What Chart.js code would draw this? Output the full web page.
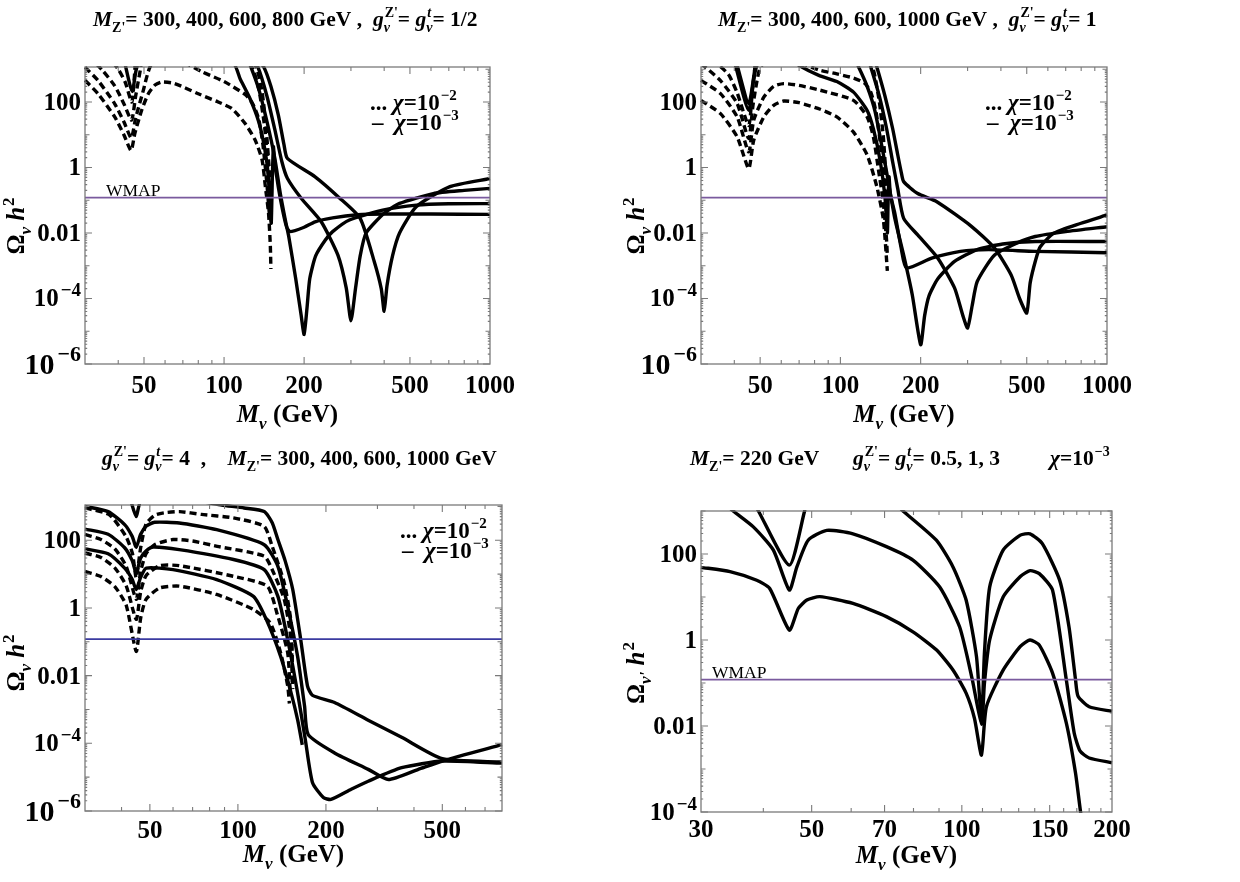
<!DOCTYPE html>
<html>
<head>
<meta charset="utf-8">
<script src="https://cdn.jsdelivr.net/npm/chart.js@4.4.1/dist/chart.umd.min.js"></script>
<style>
  body { margin: 0; background: #fff; }
  #wrap { position: relative; width: 1240px; height: 882px; }
  canvas { position: absolute; }
</style>
</head>
<body>
<div id="wrap">
  <canvas id="c1" width="620" height="441" style="left:0;top:0"></canvas>
  <canvas id="c2" width="620" height="441" style="left:620px;top:0"></canvas>
  <canvas id="c3" width="620" height="441" style="left:0;top:441px"></canvas>
  <canvas id="c4" width="620" height="441" style="left:620px;top:441px"></canvas>
</div>
<script>
// WMAP relic density band (drawn as one line)
const wmap = 0.12;

// ---- panel 1 : g = 1/2, M_Z' = 300, 400, 600, 800 GeV ----
const p1XTicks = [50, 100, 200, 500, 1000];
const p1YTicks = [1e-6, 1e-4, 0.01, 1, 100];
// chi = 1e-2 (dashed)
const p1Dash1 = [[30,460],[33.6,178],[38.8,35],[42,10],[44.7,3.3],[46.2,11],[49,56],[51.9,178],[55,330],[58.3,407],[65,370],[80,178],[95,100],[107,63],[120,22],[131,6.8],[139,1.7],[143,0.26],[147,0.04],[149.3,0.004],[150,0.0008]];
const p1Dash2 = [[30,1150],[33.6,450],[38.8,88],[42,25],[44.8,8],[46.5,32],[49.5,200],[53,1300],[60,2500],[72,1500],[83,820],[100,420],[120,170],[128,90],[135,30],[140,5],[145,0.3],[148,0.04],[150,0.028]];
const p1Dash3 = [[31,2500],[35,900],[38.8,311],[42,89],[44.9,28],[46.5,150],[48.5,1000],[50,3000],[100,3000],[126,1300],[135,250],[142,18],[146,1.2],[149.5,0.05]];
const p1Dash4 = [[36,3000],[40,1000],[42.5,400],[45,100],[46.2,900],[47,2500],[110,3000],[131,1300],[139,200],[144,15],[148,0.8],[150,0.15]];
// chi = 1e-3 (solid)
const p1Solid1 = [[42.3,1600],[45.2,210],[48.2,1600],[108,1500],[115,500],[125,130],[135,25],[142,4],[147,0.5],[149.5,0.03],[150.5,0.02],[152,0.6],[153.3,4.3],[155,1.5],[160,0.25],[166,0.05],[172,0.015],[177,0.011],[200,0.015],[220,0.022],[256,0.029],[318,0.036],[400,0.038],[600,0.038],[1000,0.037]];
const p1Solid2 = [[120,3000],[126,1200],[135,250],[145,25],[155,2],[163,0.15],[170,0.025],[175,0.008],[186,4e-4],[195,3e-5],[200,8e-6],[205,5e-5],[210,4e-4],[221,2e-3],[240,6e-3],[256,0.011],[296,0.025],[395,0.05],[529,0.071],[700,0.078],[1000,0.079]];
const p1Solid3 = [[125,2500],[134,1170],[145,150],[155,15],[165,1.5],[173,0.47],[195,0.115],[232,0.022],[268,2.1e-3],[288,2.1e-4],[300,2.1e-5],[312,2e-4],[325,2e-3],[342,0.01],[400,0.04],[457,0.08],[612,0.16],[800,0.2],[1000,0.23]];
const p1Solid4 = [[130,2500],[141,1170],[150,300],[160,40],[168,5],[173,1.9],[220,0.52],[271,0.12],[325,0.028],[367,1.35e-3],[390,2e-4],[400,4.1e-5],[410,2.5e-4],[430,2e-3],[457,0.01],[528,0.063],[707,0.26],[1000,0.46]];

// ---- panel 2 : g = 1, M_Z' = 300, 400, 600, 1000 GeV ----
const p2XTicks = [50, 100, 200, 500, 1000];
const p2YTicks = [1e-6, 1e-4, 0.01, 1, 100];
const p2Dash1 = [[30,112],[35.5,44],[41,8.6],[45.3,0.93],[47.3,6.8],[51.6,35],[56.2,79],[61.3,107],[70,95],[84,60],[97,35],[112,12],[126,2.4],[137,0.26],[145,0.025],[150,7e-4]];
const p2Dash2 = [[30,457],[35.5,180],[41,35],[45.3,3],[47.3,28],[51.6,140],[56.2,300],[61.3,363],[70,320],[84,229],[112,112],[126,35],[133,8.5],[139,0.83],[145,0.08],[149,0.006],[150,0.002]];
const p2Dash3 = [[30,1500],[35.5,450],[41,90],[45.3,7.6],[47,80],[49,600],[50.5,1300],[61,2500],[75,1300],[83,950],[97,720],[112,540],[123,380],[130,200],[136,50],[141,6],[146,0.4],[150,0.02]];
const p2Dash4 = [[33,2000],[38,700],[41,190],[45.3,19],[46.7,200],[48,1500],[49,3000],[120,3000],[132,1170],[140,100],[145,8],[148,0.6],[150,0.05]];
const p2Solid1 = [[40.4,1300],[45.3,56],[48.7,1300],[60,3000],[70,1300],[83,650],[97,420],[112,200],[126,55],[133,15],[141,1.6],[147,0.12],[150,0.01],[151,0.1],[152.2,0.52],[154,0.15],[160,0.04],[169,3.5e-3],[177,8.5e-4],[220,1.7e-3],[282,2.75e-3],[360,3.1e-3],[538,2.75e-3],[1000,2.5e-3]];
const p2Solid2 = [[41,1300],[45.3,90],[48,1300],[49,3000],[110,3000],[117,1170],[126,300],[135,50],[149,0.74],[160,0.028],[172.7,2.1e-3],[186,1.3e-4],[200,3.9e-6],[207,3e-5],[215,1.2e-4],[232,4e-4],[268,1.35e-3],[326,3.1e-3],[406,4.6e-3],[538,5.5e-3],[1000,5.5e-3]];
const p2Solid3 = [[125,3000],[130,1170],[140,150],[149,15.5],[157,1.5],[164,0.23],[172.7,0.028],[195,8.7e-3],[232,1.7e-3],[268,2.1e-4],[288,3e-5],[300,1.26e-5],[312,6e-5],[326,3.3e-4],[378,2.1e-3],[459,4.9e-3],[538,7.8e-3],[700,0.011],[1000,0.0155]];
const p2Solid4 = [[132,3000],[137,1170],[147,150],[157,15.5],[164,2.5],[169,0.74],[172.7,0.37],[195,0.16],[230,0.09],[310,0.016],[378,3.5e-3],[437,5.2e-4],[470,1e-4],[500,3.6e-5],[515,3e-4],[540,1.5e-3],[562,3.8e-3],[631,9.8e-3],[794,0.0195],[1000,0.0355]];

// ---- panel 3 : g = 4, M_Z' = 300, 400, 600, 1000 GeV ----
const p3XTicks = [50, 100, 200, 500];
const p3YTicks = [1e-6, 1e-4, 0.01, 1, 100];
const p3DashA = [[30,900],[36.3,570],[41.4,130],[43.6,40],[44.9,7.8],[46.5,60],[48.5,300],[52,550],[56,650],[63.2,700],[75,580],[96.6,457],[123,257],[131,66],[144,5.5],[152,0.36],[154,0.004]];
const p3DashB = [[30,148],[34,105],[38,55],[41.5,17],[44.9,1.8],[46.5,12],[48.5,40],[52,75],[60,105],[70,95],[85,66],[123,34],[131,13.5],[144,1.8],[152,0.115],[153.5,0.005]];
const p3DashC = [[30,42],[34,31],[38,15],[41.5,4.5],[44.9,0.46],[46.5,3],[48.5,9],[54,17.8],[63,17.8],[96.6,8.6],[126,4.4],[136,0.7],[148,0.047],[151,0.003]];
const p3DashD = [[30,12],[34,8.5],[38,4.2],[41.5,1.2],[44.9,0.052],[46.5,0.5],[48.5,1.8],[54,3.9],[63,4.4],[84.6,2.5],[113,0.9],[129,0.36],[140,0.047],[148,5e-3],[150,1.5e-3]];
const p3SolidA = [[43,1500],[44.9,500],[46.8,1500],[70,1500],[88,1100],[105,900],[123,710],[131,330],[137,105],[145,25],[154,3.5],[164,0.115],[173,4.9e-3],[180,2.6e-3],[214,1.6e-3],[279,4.8e-4],[363,1.5e-4],[500,3.5e-5],[800,2.8e-5]];
const p3SolidB = [[30,1000],[36,700],[41,290],[43.5,130],[44.9,62],[46.5,150],[48.5,260],[51.9,340],[63,324],[84.6,205],[123,74],[137,17],[148,1.1],[160,0.037],[169,1.26e-3],[174,1.8e-4],[214,5.2e-5],[279,1.7e-5],[327,8.5e-6],[414,1.7e-5],[500,3e-5],[800,9.1e-5]];
const p3SolidC = [[30,214],[36,150],[41,60],[43.5,25],[44.9,11],[46.5,30],[48.5,48],[51.2,63],[63,53],[96.6,27],[123,13.5],[137,2.2],[148,0.115],[160,3.1e-3],[170,1.3e-4],[180,6.8e-6],[196,2.5e-6],[208,2.2e-6],[244,4.4e-6],[279,7.6e-6],[363,1.9e-5],[500,3e-5],[800,2.6e-5]];
const p3SolidD = [[30,56],[36,40],[41,15],[43.5,7],[44.9,3.5],[46.5,8],[48.6,15],[60,13.5],[84.6,6.9],[113,2.2],[125,0.46],[140,0.037],[152,3.1e-3],[160,5e-4],[166,9e-5]];

// ---- panel 4 : M_Z' = 220 GeV, g = 0.5, 1, 3, chi = 1e-3 ----
const p4XTicks = [30, 50, 70, 100, 150, 200];
const p4XMinor = [40, 60, 80, 90, 110, 120, 130, 140, 160, 170, 180, 190];
const p4YTicks = [1e-4, 0.01, 1, 100];
const p4G1 = [[38.3,1500],[39.1,1000],[45.1,55],[48.4,1000],[48.9,1500],[73.2,1500],[76.2,1000],[88.9,209],[96,50],[102,8.5],[107,0.41],[109.5,0.013],[111,0.5],[113.7,17],[121,123],[131,275],[137,295],[145,174],[157,25],[164,2],[169,0.12],[171,0.049],[180,0.028],[200,0.022]];
const p4G2 = [[33.5,1500],[34.8,1000],[38.2,427],[41.9,123],[45.1,14.5],[46.7,50],[49.2,209],[53.6,355],[60.5,295],[70.6,148],[79.8,72],[90.3,17],[99,2.0],[105,0.117],[109.5,0.011],[111,0.1],[113.7,1.0],[121,10],[131,30],[137,41],[143,35],[152,14.5],[162,0.117],[168,6.8e-3],[172.7,2.6e-3],[180,1.8e-3],[200,1.4e-3]];
const p4G3 = [[30,49],[34.3,39],[38.8,24.5],[41.2,15.8],[45.1,1.7],[47,5.4],[48.9,8.5],[51.9,10.2],[60.5,7.1],[70.6,3.5],[79.8,1.55],[88.9,0.59],[96,0.2],[102,0.058],[106,0.015],[109.5,2.1e-3],[112,0.028],[121,0.2],[131,0.71],[137,1.0],[143,0.76],[152,0.17],[162,0.0117],[169,8.1e-4],[173,1e-4],[176,3e-5]];

const serif = '"Liberation Serif", "Times New Roman", serif';

function setFont(ctx, size, italic, normal) {
  ctx.font = (italic ? "italic " : "") + (normal ? "" : "bold ") + size + "px " + serif;
}

// text with sub/superscripts: parts = [{t, i, sub, subI, sup, supI, supS, gap}]
function richRun(ctx, parts, size, x, y, draw, normal) {
  let cx = x;
  parts.forEach((p) => {
    const small = Math.round(size * (p.supS || 0.66));
    if (p.t) {
      setFont(ctx, size, p.i, normal);
      if (draw) ctx.fillText(p.t, cx, y);
      cx += ctx.measureText(p.t).width;
    }
    let w = 0;
    if (p.sub) {
      setFont(ctx, small, p.subI, normal);
      if (draw) ctx.fillText(p.sub, cx, y + size * 0.28);
      w = ctx.measureText(p.sub).width;
    }
    if (p.sup) {
      const g = p.gap || 1;
      setFont(ctx, small, p.supI, normal);
      if (draw) ctx.fillText(p.sup, cx + g, y - size * 0.42);
      w = Math.max(w, ctx.measureText(p.sup).width + g);
    }
    cx += w;
  });
  return cx - x;
}

function drawRich(ctx, parts, x, y, size, align, normal) {
  const w = richRun(ctx, parts, size, 0, 0, false, normal);
  const x0 = align === "right" ? x - w : align === "center" ? x - w / 2 : x;
  richRun(ctx, parts, size, x0, y, true, normal);
}

const gZ = { t: "g", i: 1, sub: "ν", subI: 1, sup: "Z'" };
const gT = { t: "g", i: 1, sub: "ν", subI: 1, sup: "t", supI: 1 };
const mZ = { t: "M", i: 1, sub: "Z'" };
const chi = { t: "χ", i: 1 };

// y tick label: plain number, or 10 with exponent (the 10^-6 one is set larger)
function yLabel(v) {
  if (v >= 0.01) return { size: 25, parts: [{ t: String(v) }] };
  const e = Math.round(-Math.log10(v));
  if (e >= 6) return { size: 30, parts: [{ t: "10", sup: "−" + e, supS: 0.74, gap: 3 }] };
  return { size: 25, parts: [{ t: "10", sup: "−" + e, supS: 0.74, gap: 2 }] };
}

function isTick(v, list) {
  return list.some((t) => Math.abs(Math.log10(v) - Math.log10(t)) < 1e-6);
}

// frame, inward ticks, tick labels and all texts of one panel
function decor(cfg) {
  return {
    id: "decor",
    afterDraw(chart) {
      const ctx = chart.ctx;
      const a = chart.chartArea;
      const xs = chart.scales.x;
      const ys = chart.scales.y;
      ctx.save();
      ctx.strokeStyle = "#7a7a7a";
      ctx.lineWidth = 1.3;
      ctx.strokeRect(a.left, a.top, a.right - a.left, a.bottom - a.top);

      ctx.beginPath();
      ctx.lineWidth = 1.1;
      let xMinor = cfg.xMinor;
      if (!xMinor) {
        xMinor = [];
        for (let d = 1; d <= 3; d++)
          for (let m = 1; m <= 9; m++) xMinor.push(m * Math.pow(10, d));
      }
      const xAll = cfg.xTicks.concat(xMinor);
      xAll.forEach((v) => {
        if (v <= cfg.xMin || v >= cfg.xMax) return;
        const px = xs.getPixelForValue(v);
        const len = isTick(v, cfg.xTicks) ? 7 : 4;
        ctx.moveTo(px, a.bottom);
        ctx.lineTo(px, a.bottom - len);
        ctx.moveTo(px, a.top);
        ctx.lineTo(px, a.top + len);
      });
      for (let d = -6; d <= 3; d++) {
        for (let m = 1; m <= 9; m++) {
          const v = m * Math.pow(10, d);
          if (v < cfg.yMin * 0.999 || v > cfg.yMax) continue;
          const py = ys.getPixelForValue(v);
          let len = m === 1 ? 4.5 : 2.2;
          if (m === 1 && isTick(v, cfg.yTicks)) len = 7;
          ctx.moveTo(a.left, py);
          ctx.lineTo(a.left + len, py);
          ctx.moveTo(a.right, py);
          ctx.lineTo(a.right - len, py);
        }
      }
      ctx.stroke();

      ctx.fillStyle = "#000";
      ctx.textBaseline = "alphabetic";
      cfg.xTicks.forEach((v) => {
        drawRich(ctx, [{ t: String(v) }], xs.getPixelForValue(v), a.bottom + cfg.xLabDy, 25, "center");
      });
      cfg.yTicks.forEach((v) => {
        const lab = yLabel(v);
        drawRich(ctx, lab.parts, a.left - 4, ys.getPixelForValue(v) + lab.size * 0.32, lab.size, "right");
      });

      // axis titles
      const cxm = (a.left + a.right) / 2;
      drawRich(ctx, [{ t: "M", i: 1, sub: "ν", subI: 1 }, { t: " (GeV)" }], cxm, a.bottom + cfg.xTitleDy, 25, "center");
      ctx.save();
      ctx.translate(24, cfg.yTitleY);
      ctx.rotate(-Math.PI / 2);
      drawRich(ctx, [{ t: "Ω", sub: cfg.prime ? "ν'" : "ν", subI: 1 }, { t: " " }, { t: "h", i: 1, sup: "2" }], 0, 0, 25, "center");
      ctx.restore();

      // panel title(s)
      cfg.titles.forEach((tt) => drawRich(ctx, tt.parts, tt.x, tt.y, 21.5, "left"));

      // legend
      if (cfg.legend) {
        const lx = cfg.legend[0];
        const ly = cfg.legend[1];
        drawRich(ctx, [{ t: "... " }, chi, { t: "=10", sup: "−2" }], lx, ly, 23, "left");
        drawRich(ctx, [{ t: "–  " }, chi, { t: "=10", sup: "−3" }], lx + 2, ly + 20, 23, "left");
      }
      if (cfg.wmapLabel) {
        drawRich(ctx, [{ t: "WMAP" }], cfg.wmapLabel, ys.getPixelForValue(wmap) - 2, 17.5, "left", true);
      }
      ctx.restore();
    },
  };
}

function toXY(arr) {
  return arr.map((p) => ({ x: p[0], y: p[1] }));
}

function makePanel(cfg) {
  const datasets = [
    {
      data: toXY([[cfg.xMin, wmap], [cfg.xMax, wmap]]),
      borderColor: cfg.wmapColor,
      borderWidth: 1.7,
      tension: 0,
    },
  ];
  cfg.dashed.forEach((d) =>
    datasets.push({ data: toXY(d), borderColor: "#000", borderWidth: 3.4, borderDash: [7, 4] })
  );
  cfg.solid.forEach((d) =>
    datasets.push({ data: toXY(d), borderColor: "#000", borderWidth: 3.4 })
  );
  return new Chart(document.getElementById(cfg.id).getContext("2d"), {
    type: "line",
    data: { datasets },
    options: {
      responsive: false,
      animation: false,
      events: [],
      clip: 1,
      layout: { padding: cfg.pad },
      elements: {
        point: { radius: 0 },
        line: { tension: 0.2, borderJoinStyle: "round", borderCapStyle: "butt" },
      },
      scales: {
        x: { type: "logarithmic", min: cfg.xMin, max: cfg.xMax, display: false },
        y: { type: "logarithmic", min: cfg.yMin, max: cfg.yMax, display: false },
      },
      plugins: { legend: { display: false }, tooltip: { enabled: false } },
    },
    plugins: [decor(cfg)],
  });
}

makePanel({
  id: "c1", xMin: 30, xMax: 1000, yMin: 1e-6, yMax: 1170,
  pad: { left: 85, right: 130, top: 67, bottom: 77 },
  xTicks: p1XTicks, yTicks: p1YTicks, xLabDy: 29, xTitleDy: 58, yTitleY: 226,
  dashed: [p1Dash1, p1Dash2, p1Dash3, p1Dash4],
  solid: [p1Solid1, p1Solid2, p1Solid3, p1Solid4],
  wmapColor: "#7a5a9e", wmapLabel: 106, legend: [370, 110],
  titles: [{ x: 93, y: 26, parts: [mZ, { t: "= 300, 400, 600, 800 GeV ,  " }, gZ, { t: "= " }, gT, { t: "= 1/2" }] }],
});

makePanel({
  id: "c2", xMin: 30, xMax: 1000, yMin: 1e-6, yMax: 1170,
  pad: { left: 81, right: 133, top: 67, bottom: 77 },
  xTicks: p2XTicks, yTicks: p2YTicks, xLabDy: 29, xTitleDy: 58, yTitleY: 226,
  dashed: [p2Dash1, p2Dash2, p2Dash3, p2Dash4],
  solid: [p2Solid1, p2Solid2, p2Solid3, p2Solid4],
  wmapColor: "#7a5a9e", legend: [365, 110],
  titles: [{ x: 98, y: 26, parts: [mZ, { t: "= 300, 400, 600, 1000 GeV ,  " }, gZ, { t: "= " }, gT, { t: "= 1" }] }],
});

makePanel({
  id: "c3", xMin: 30, xMax: 800, yMin: 1e-6, yMax: 1100,
  pad: { left: 85, right: 118, top: 64, bottom: 71 },
  xTicks: p3XTicks, yTicks: p3YTicks, xLabDy: 27, xTitleDy: 51, yTitleY: 222,
  dashed: [p3DashA, p3DashB, p3DashC, p3DashD],
  solid: [p3SolidA, p3SolidB, p3SolidC, p3SolidD],
  wmapColor: "#3a3aa0", legend: [400, 97],
  titles: [{ x: 102, y: 24, parts: [gZ, { t: "= " }, gT, { t: "= 4  ,    " }, mZ, { t: "= 300, 400, 600, 1000 GeV" }] }],
});

makePanel({
  id: "c4", xMin: 30, xMax: 200, yMin: 1e-4, yMax: 1000,
  pad: { left: 81, right: 128, top: 70, bottom: 70 },
  xTicks: p4XTicks, xMinor: p4XMinor, yTicks: p4YTicks, xLabDy: 25, xTitleDy: 51, yTitleY: 232,
  dashed: [],
  solid: [p4G1, p4G2, p4G3],
  wmapColor: "#7a5a9e", wmapLabel: 92, prime: true,
  titles: [
    { x: 70, y: 24, parts: [mZ, { t: "= 220 GeV" }] },
    { x: 233, y: 24, parts: [gZ, { t: "= " }, gT, { t: "= 0.5, 1, 3" }] },
    { x: 430, y: 24, parts: [chi, { t: "=10", sup: "−3" }] },
  ],
});
</script>
</body>
</html>
